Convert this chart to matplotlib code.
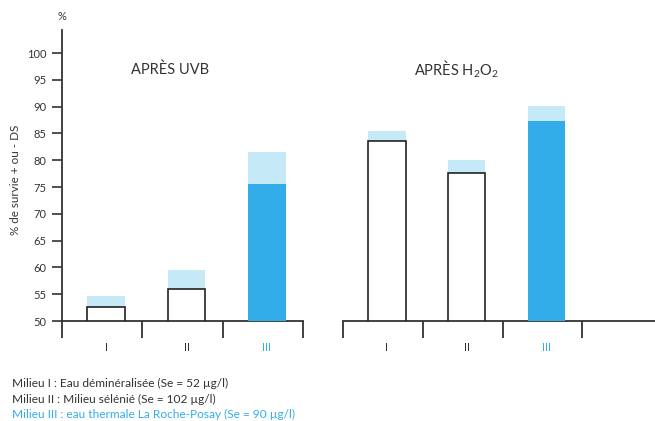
import numpy as np
import matplotlib
matplotlib.use("Agg")
import matplotlib.pyplot as plt

# values (% survival, bar top and bar + DS)
milieux = ["I", "II", "III"]
uvb_mean = [52.6, 56.0, 75.5]
uvb_ds = [54.7, 59.5, 81.5]
h2o2_mean = [83.6, 77.7, 87.3]
h2o2_ds = [85.5, 80.0, 90.2]
yticks = list(range(50, 101, 5))
legend_lines = [
    "Milieu I : Eau déminéralisée (Se = 52 µg/l)",
    "Milieu II : Milieu sélénié (Se = 102 µg/l)",
    "Milieu III : eau thermale La Roche-Posay (Se = 90 µg/l)",
]

plt.rcParams["font.family"] = ["Lato", "DejaVu Sans"]
plt.rcParams["mathtext.fontset"] = "custom"
plt.rcParams["mathtext.rm"] = "Lato"

dark = "#333333"
blue = "#33adea"
light = "#c5e9f6"
edge = "#222222"

W, H = 655, 421
fig = plt.figure(figsize=(W / 100, H / 100), dpi=100)

y0, y1 = 50, 104.3
bottom = (H - 321) / H
height = 291 / H
ax1 = fig.add_axes([62 / W, bottom, 241 / W, height])
ax2 = fig.add_axes([343 / W, bottom, 312 / W, height])

x = np.arange(len(milieux))
bw = 0.47
bounds = [-0.55, 0.45, 1.45, 2.45]


def draw_panel(ax, mean, ds, xmax):
    for i in range(len(mean)):
        ax.bar(x[i], ds[i] - mean[i], bottom=mean[i], width=bw,
               color=light, linewidth=0, zorder=2)
        if i == 2:
            ax.bar(x[i], mean[i] - y0, bottom=y0, width=bw,
                   color=blue, linewidth=0, zorder=3)
        else:
            ax.bar(x[i], mean[i] - y0, bottom=y0, width=bw,
                   facecolor="white", edgecolor=edge, linewidth=1.2, zorder=3)
    ax.set_xlim(bounds[0], xmax)
    ax.set_ylim(y0, y1)
    for s in ["top", "right"]:
        ax.spines[s].set_visible(False)
    ax.spines["bottom"].set_color(dark)
    ax.spines["bottom"].set_linewidth(1.3)
    ax.set_xticks(bounds, minor=True)
    ax.tick_params(axis="x", which="minor", length=12, width=1.3,
                   color=dark, direction="out")
    ax.set_xticks(x)
    ax.set_xticklabels(milieux, fontsize=8, color=dark)
    ax.tick_params(axis="x", which="major", length=0, pad=15)
    ax.get_xticklabels()[2].set_color(blue)
    ax.patch.set_alpha(0)


draw_panel(ax1, uvb_mean, uvb_ds, 2.45)
draw_panel(ax2, h2o2_mean, h2o2_ds, 3.36)

ax1.spines["left"].set_color(dark)
ax1.spines["left"].set_linewidth(1.3)
ax1.set_yticks(yticks)
ax1.set_yticklabels([str(t) for t in yticks], fontsize=8, color=dark)
ax1.tick_params(axis="y", length=7, width=1.2, color=dark, pad=4)

ax2.spines["left"].set_visible(False)
ax2.set_yticks([])

ax1.text(0.45, 1.0 - (70 - 30) / 291, "APRÈS UVB", transform=ax1.transAxes,
         ha="center", va="center", fontsize=10.5, color=dark)
ax2.text((456 - 343) / 312, 1.0 - (69 - 30) / 291,
         r"APRÈS H$\mathregular{_2}$O$\mathregular{_2}$",
         transform=ax2.transAxes, ha="center", va="center",
         fontsize=10.5, color=dark)

fig.text(62 / W, 1 - 17 / H, "%", ha="center", va="center",
         fontsize=8, color=dark)
fig.text(16 / W, 1 - 180 / H, "% de survie + ou - DS", rotation=90,
         ha="center", va="center", fontsize=8.4, color=dark)

legend_y = [383, 399, 414]
for i, line in enumerate(legend_lines):
    fig.text(12 / W, 1 - legend_y[i] / H, line, ha="left", va="center",
             fontsize=8.6, color=blue if i == 2 else dark)

fig.savefig("out.png", dpi=100)
